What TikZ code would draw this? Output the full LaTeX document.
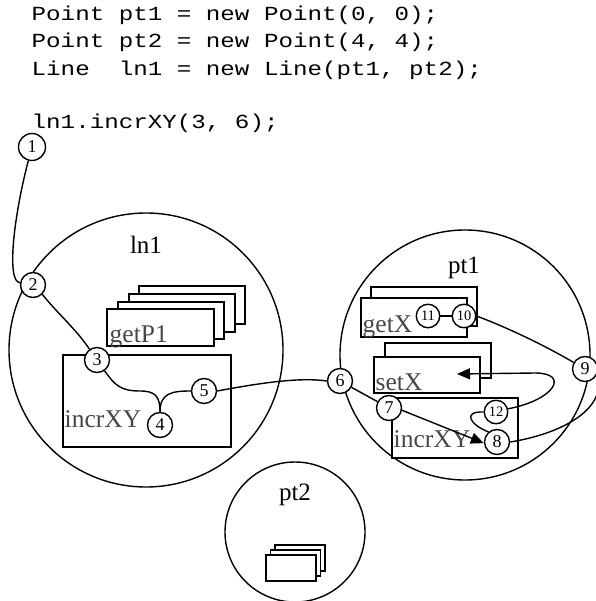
\documentclass[tikz,border=0pt]{standalone}
\usepackage{fontspec}
\setmainfont{Liberation Serif}
\newfontfamily\codefont{Liberation Mono}
\usetikzlibrary{arrows.meta}
\begin{document}
\frenchspacing
\begin{tikzpicture}[x=1pt,y=-1pt,line width=1.4pt,
  num/.style={circle,draw,fill=white,inner sep=0pt,minimum size=25pt,font=\fontsize{18}{18}\selectfont},
  numsm/.style={num,minimum size=23.5pt,font=\fontsize{14.5}{14.5}\selectfont},
  box/.style={draw,fill=white},
  big/.style={circle,draw,inner sep=0pt},
  glabel/.style={anchor=base west,inner sep=0pt,text=black!72,font=\fontsize{25.5}{26}\selectfont},
  blabel/.style={anchor=base,inner sep=0pt,font=\fontsize{25}{26}\selectfont},
  code/.style={anchor=base west,inner sep=0pt,font=\codefont\fontsize{20}{20}\selectfont},
  tip/.style={-{Triangle[length=13pt,width=11pt]}}
]
\useasboundingbox (0,0) rectangle (595,601);

% code
\node[code] (c1) at (31,20.5) {\scalebox{1.21}[1]{Point pt1 = new Point(0, 0);}};
\node[code] (c2) at (31,48) {\scalebox{1.21}[1]{Point pt2 = new Point(4, 4);}};
\node[code] (c3) at (31,75.5) {\scalebox{1.21}[1]{Line~~ln1 = new Line(pt1, pt2);}};
\node[code] (c5) at (31,129) {\scalebox{1.21}[1]{ln1.incrXY(3, 6);}};

% objects
\node[big,minimum size=274pt] (ln1) at (146,350) {};
\node[big,minimum size=250pt] (pt1) at (465,355) {};
\node[big,minimum size=140pt] (pt2) at (295,532) {};

\node[blabel] (lln1) at (146,253) {ln1};
\node[blabel] (lpt1) at (464,273) {pt1};
\node[blabel] (lpt2) at (295,500) {pt2};

% ln1 methods
\draw[box] (139,286) rectangle (245,324);
\draw[box] (129,294) rectangle (235,332);
\draw[box] (118,302) rectangle (224,339);
\draw[box] (107,309) rectangle (214,346);
\node[glabel] (tgetP1) at (109,342) {getP1};
\draw[box] (63,355) rectangle (231,447);
\node[glabel] (tincr1) at (64,427) {incrXY};

% pt1 methods
\draw[box] (371,287) rectangle (477,326);
\draw[box] (361,298) rectangle (467,337);
\node[glabel] (tgetX) at (362,332) {getX};
\draw[box] (385,343) rectangle (491,378);
\draw[box] (374,357) rectangle (480,393);
\node[glabel] (tsetX) at (375,390) {setX};
\draw[box] (392,398) rectangle (518,458);
\node[glabel] (tincr2) at (393,447) {incrXY};

% pt2 methods
\draw[box] (275,545) rectangle (325,571);
\draw[box] (270.5,550) rectangle (320.5,576);
\draw[box] (266,555) rectangle (316,581);

% numbered steps
\node[num,minimum width=27pt] (n1) at (32,147) {1};
\node[num] (n2) at (33,285) {2};
\node[num] (n3) at (97,360) {3};
\node[num] (n4) at (160,425) {4};
\node[num] (n5) at (204,391) {5};
\node[num] (n6) at (340,381) {6};
\node[num] (n7) at (389,408) {7};
\node[num] (n8) at (497,442) {8};
\node[num] (n9) at (585,369) {9};
\node[numsm] (n10) at (464,316) {10};
\node[numsm] (n11) at (428,316) {11};
\node[numsm] (n12) at (496,412) {12};
\coordinate (sxt) at (457,374);

% connectors
\draw (n1.255) .. controls (14,215) and (6,282) .. (n2.170);
\draw (n2.-45) .. controls (57,313) and (77,330) .. (n3.125);
\draw (n3.-55) .. controls (115,385) and (120,391) .. (140,391) .. controls (155,391) and (160,396) .. (n4.north);
\draw (n5.west) .. controls (172,391) and (160,393) .. (n4.north);
\draw (n5.east) .. controls (260,383) and (300,377) .. (n6.west);
\draw (n6) -- (n7);
\draw[tip] (n7.-10) -- (n8.185);
\draw (n12.west) .. controls (462,411) and (470,425) .. (n8.130);
\draw[tip] (n12.15) .. controls (555,400) and (570,373) .. (535,373) -- (sxt);
\draw (n8.east) .. controls (560,434) and (608,410) .. (n9.-20);
\draw (n10.east) .. controls (506,327) and (544,345) .. (n9.150);
\draw (n11) -- (n10);
\end{tikzpicture}
\end{document}
